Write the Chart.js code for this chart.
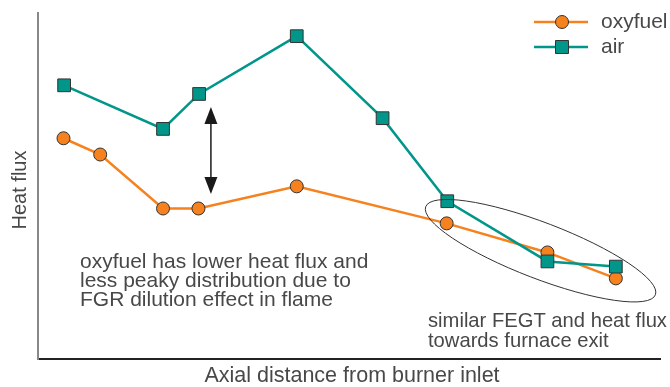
<!DOCTYPE html>
<html>
<head>
<meta charset="utf-8">
<script src="https://cdn.jsdelivr.net/npm/chart.js@4.4.1/dist/chart.umd.min.js"></script>
<style>
  html, body { margin: 0; padding: 0; background: #fff; }
  #wrap { width: 670px; height: 387px; }
</style>
</head>
<body>
<div id="wrap"><canvas id="chartHeatFlux"></canvas></div>
<script>
// axial position (arbitrary units, 0-100 across the axis)
const oxyX = [4.1, 10.0, 20.1, 25.8, 41.6, 65.7, 81.9, 92.9];
const oxyY = [63.8, 59.1, 43.5, 43.5, 49.9, 39.2, 30.8, 23.3];
const airX = [4.2, 20.1, 25.9, 41.6, 55.4, 65.8, 81.9, 92.9];
const airY = [79.1, 66.5, 76.6, 93.3, 69.6, 45.6, 28.2, 26.7];
const seriesNames = ['oxyfuel', 'air'];

const orange = '#f5821f';
const teal = '#00968a';
const textColor = '#484848';
const family = '"Liberation Sans", Arial, sans-serif';

function toPoints(xs, ys) {
    return xs.map((x, i) => ({ x: x, y: ys[i] }));
}

// draws axis titles, legend, the arrow, the ellipse and the notes
const extrasPlugin = {
    id: 'extras',
    afterDraw(chart) {
        const c = chart.ctx;
        const xs = chart.scales.x, ys = chart.scales.y;
        c.save();
        c.fillStyle = textColor;
        c.textBaseline = 'middle';

        // axis titles
        c.textAlign = 'center';
        c.font = '21.5px ' + family;
        c.fillText('Axial distance from burner inlet', 352, 376);
        c.save();
        c.translate(20, 190);
        c.rotate(-Math.PI / 2);
        c.font = '20px ' + family;
        c.fillText('Heat flux', 0, 0);
        c.restore();

        // notes
        c.textAlign = 'left';
        c.font = '21px ' + family;
        const note1 = ['oxyfuel has lower heat flux and', 'less peaky distribution due to', 'FGR dilution effect in flame'];
        note1.forEach((t, i) => c.fillText(t, 80, 262 + i * 19));
        c.font = '20.2px ' + family;
        const note2 = ['similar FEGT and heat flux', 'towards furnace exit'];
        note2.forEach((t, i) => c.fillText(t, 428, 321 + i * 20.5));

        // double arrow between the two series
        const ax = xs.getPixelForValue(27.8);
        const aTop = ys.getPixelForValue(72.8);
        const aBot = ys.getPixelForValue(47.7);
        c.strokeStyle = '#1a1a1a';
        c.fillStyle = '#1a1a1a';
        c.lineWidth = 1.5;
        c.beginPath();
        c.moveTo(ax, aTop + 10);
        c.lineTo(ax, aBot - 10);
        c.stroke();
        c.beginPath();
        c.moveTo(ax, aTop);
        c.lineTo(ax - 6.5, aTop + 17);
        c.lineTo(ax + 6.5, aTop + 17);
        c.closePath();
        c.fill();
        c.beginPath();
        c.moveTo(ax, aBot);
        c.lineTo(ax - 6.5, aBot - 17);
        c.lineTo(ax + 6.5, aBot - 17);
        c.closePath();
        c.fill();

        // ellipse round the furnace exit points
        const ex = xs.getPixelForValue(80.8);
        const ey = ys.getPixelForValue(31.3);
        c.strokeStyle = '#333';
        c.lineWidth = 1;
        c.beginPath();
        c.ellipse(ex, ey, 123, 28, 21 * Math.PI / 180, 0, Math.PI * 2);
        c.stroke();

        // legend
        const legend = [
            { name: seriesNames[0], color: orange, shape: 'circle', y: 22 },
            { name: seriesNames[1], color: teal, shape: 'rect', y: 47 }
        ];
        legend.forEach(l => {
            c.strokeStyle = l.color;
            c.lineWidth = 2.5;
            c.beginPath();
            c.moveTo(534, l.y);
            c.lineTo(588, l.y);
            c.stroke();
            c.fillStyle = l.color;
            c.strokeStyle = '#333';
            c.lineWidth = 1;
            c.beginPath();
            if (l.shape === 'circle') {
                c.arc(562, l.y, 6.5, 0, Math.PI * 2);
            } else {
                c.rect(555.5, l.y - 6.5, 13, 13);
            }
            c.fill();
            c.stroke();
            c.fillStyle = textColor;
            c.font = '21px ' + family;
            c.textAlign = 'left';
            c.fillText(l.name, 601, l.y);
        });
        c.restore();
    }
};

new Chart(document.getElementById('chartHeatFlux'), {
    type: 'scatter',
    data: {
        datasets: [{
            label: seriesNames[0],
            data: toPoints(oxyX, oxyY),
            showLine: true,
            borderColor: orange,
            borderWidth: 2.5,
            backgroundColor: orange,
            pointBorderColor: '#333',
            pointBorderWidth: 1,
            pointStyle: 'circle',
            pointRadius: 6.5,
            order: 2
        }, {
            label: seriesNames[1],
            data: toPoints(airX, airY),
            showLine: true,
            borderColor: teal,
            borderWidth: 2.5,
            backgroundColor: teal,
            pointBorderColor: '#333',
            pointBorderWidth: 1,
            pointStyle: 'rect',
            pointRadius: 9,
            order: 1
        }]
    },
    options: {
        responsive: true,
        maintainAspectRatio: false,
        animation: false,
        events: [],
        layout: { padding: { left: 38, top: 13, right: 4, bottom: 28 } },
        plugins: {
            legend: { display: false },
            tooltip: { enabled: false }
        },
        scales: {
            x: {
                type: 'linear',
                min: 0,
                max: 100,
                grid: { display: false, drawTicks: false },
                ticks: { display: false },
                border: { color: '#222', width: 2 }
            },
            y: {
                type: 'linear',
                min: 0,
                max: 100,
                grid: { display: false, drawTicks: false },
                ticks: { display: false },
                border: { color: '#888', width: 2 }
            }
        }
    },
    plugins: [extrasPlugin]
});
</script>
</body>
</html>
